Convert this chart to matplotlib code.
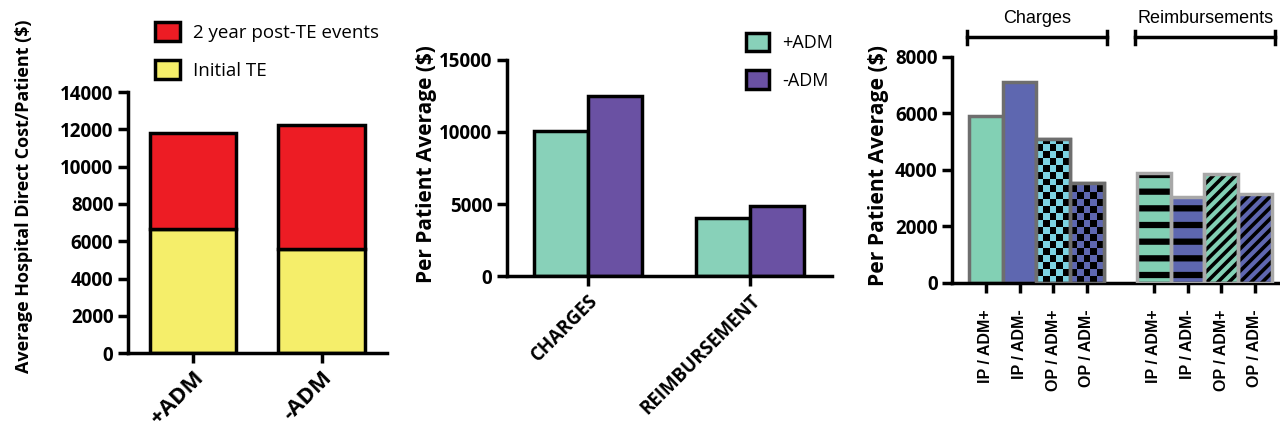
import numpy as np
import matplotlib
matplotlib.use("Agg")
import matplotlib.pyplot as plt
from matplotlib.patches import Patch
from matplotlib.colors import ListedColormap

# panel 1 - stacked hospital direct cost
groups1 = ["+ADM", "-ADM"]
initial_te = [6650, 5600]
post_te = [5150, 6650]   # on top of initial

# panel 2 - charges / reimbursement
groups2 = ["CHARGES", "REIMBURSEMENT"]
plus_adm = [10100, 4050]
minus_adm = [12500, 4850]

# panel 3 - IP / OP breakdown
labels3 = ["IP / ADM+", "IP / ADM-", "OP / ADM+", "OP / ADM-"]
charges3 = [5900, 7100, 5100, 3550]
reimb3 = [3900, 3050, 3850, 3150]

plt.rcParams['font.family'] = ['Open Sans', 'DejaVu Sans']
plt.rcParams['axes.linewidth'] = 2.5
plt.rcParams['xtick.major.width'] = 2.5
plt.rcParams['ytick.major.width'] = 2.5
plt.rcParams['xtick.major.size'] = 7
plt.rcParams['ytick.major.size'] = 7

fig = plt.figure(figsize=(12.8, 4.28), dpi=100)


def style_axes(ax):
    ax.spines['top'].set_visible(False)
    ax.spines['right'].set_visible(False)
    for lab in ax.get_yticklabels():
        lab.set_fontweight('bold')
        lab.set_fontsize(13.5)


# ---------- panel 1 ----------
ax1 = fig.add_axes([0.100, 0.175, 0.202, 0.610])
x1 = np.arange(len(groups1))
ax1.bar(x1, initial_te, width=0.674, color='#F5EE6A', edgecolor='black', linewidth=2.5)
ax1.bar(x1, post_te, bottom=initial_te, width=0.674, color='#ED1C24', edgecolor='black', linewidth=2.5)
ax1.set_xlim(-0.504, 1.504)
ax1.set_ylim(0, 14000)
ax1.set_yticks(np.arange(0, 14001, 2000))
ax1.set_xticks(x1)
ax1.set_xticklabels(groups1, rotation=45, ha='right', rotation_mode='anchor',
                    fontsize=16, fontweight='bold')
ax1.set_ylabel("Average Hospital Direct Cost/Patient ($)", fontsize=13, fontweight='bold')
ax1.yaxis.set_label_coords(-0.367, 0.60)
style_axes(ax1)
h1 = [Patch(facecolor='#ED1C24', edgecolor='black', linewidth=2.5, label='2 year post-TE events'),
      Patch(facecolor='#F5EE6A', edgecolor='black', linewidth=2.5, label='Initial TE')]
ax1.legend(handles=h1, loc='lower left', bbox_to_anchor=(0.04, 0.983), frameon=False,
           fontsize=13.5, handlelength=1.3, handleheight=1.2, labelspacing=0.95, handletextpad=0.7)

# ---------- panel 2 ----------
ax2 = fig.add_axes([0.396, 0.355, 0.254, 0.505])
x2 = np.arange(len(groups2))
w2 = 0.333
ax2.bar(x2 - w2 / 2, plus_adm, width=w2, color='#88D1B9', edgecolor='black', linewidth=2.5, label='+ADM')
ax2.bar(x2 + w2 / 2, minus_adm, width=w2, color='#6A51A3', edgecolor='black', linewidth=2.5, label='-ADM')
ax2.set_xlim(-0.5, 1.506)
ax2.set_ylim(0, 15000)
ax2.set_yticks([0, 5000, 10000, 15000])
ax2.set_xticks(x2)
ax2.set_xticklabels(groups2, rotation=45, ha='right', rotation_mode='anchor',
                    fontsize=13.5, fontweight='bold')
ax2.set_ylabel("Per Patient Average ($)", fontsize=15, fontweight='bold')
ax2.yaxis.set_label_coords(-0.215, 0.52)
style_axes(ax2)
ax2.legend(loc='upper left', bbox_to_anchor=(0.685, 1.20), frameon=False, fontsize=13,
           handlelength=1.3, handleheight=1.2, labelspacing=1.0, handletextpad=0.7)

# ---------- panel 3 ----------
ax3 = fig.add_axes([0.744, 0.339, 0.256, 0.528])
pos_c = np.arange(4)
pos_r = np.arange(4) + 5
teal = '#82D0B4'
blue = '#5E67B0'
cyan = '#7CD3E3'
ec_c = '#6e6e6e'
ec_r = '#a8a8a8'

bars_c = ax3.bar(pos_c, charges3, width=1.0, color=[teal, blue, cyan, blue],
                 edgecolor=ec_c, linewidth=2.5, zorder=2)
hatches = ['-', '-', '///', '///']
for p, v, c, h in zip(pos_r, reimb3, [teal, blue, teal, blue], hatches):
    lw = 4.5 if h == '-' else 2.6
    with plt.rc_context({'hatch.linewidth': lw}):
        # fill + black hatch, then grey outline on top
        ax3.bar(p, v, width=1.0, color=c, edgecolor='black', linewidth=0, hatch=h, zorder=2)
    ax3.bar(p, v, width=1.0, facecolor='none', edgecolor=ec_r, linewidth=2.5, zorder=3)

# checkerboard fill for the OP charge bars
for b, c in zip(list(bars_c)[2:], [cyan, blue]):
    x0 = b.get_x()
    w = b.get_width()
    h = b.get_height()
    ny = int(np.ceil(h / 245))
    nx = 5
    board = np.indices((ny, nx)).sum(axis=0) % 2
    im = ax3.imshow(board, cmap=ListedColormap([c, 'black']), extent=(x0, x0 + w, 0, ny * 245),
                    origin='lower', aspect='auto', interpolation='nearest', zorder=2.5)
    im.set_clip_path(b)
    ax3.bar(x0 + w / 2, h, width=w, facecolor='none', edgecolor=ec_c, linewidth=2.5, zorder=3)

ax3.set_xlim(-1, 8.75)
ax3.set_ylim(0, 8000)
ax3.set_yticks(np.arange(0, 8001, 2000))
ax3.set_xticks(np.concatenate([pos_c, pos_r]))
ax3.set_xticklabels(labels3 + labels3, rotation=90, fontsize=11.5, fontweight='bold',
                    family=['Liberation Sans', 'DejaVu Sans'])
ax3.tick_params(axis='x', pad=12)
ax3.set_ylabel("Per Patient Average ($)", fontsize=15.2, fontweight='bold')
ax3.yaxis.set_label_coords(-0.192, 0.52)
style_axes(ax3)

# group brackets
for pos, name in [(pos_c, 'Charges'), (pos_r, 'Reimbursements')]:
    xa, xb = pos[0] - 0.55, pos[-1] + 0.6
    ax3.plot([xa, xb], [8700, 8700], color='black', lw=2.5, clip_on=False)
    ax3.plot([xa, xa], [8470, 8930], color='black', lw=2.5, clip_on=False)
    ax3.plot([xb, xb], [8470, 8930], color='black', lw=2.5, clip_on=False)
    ax3.text((xa + xb) / 2, 9350, name, ha='center', va='center', fontsize=13,
             family=['Liberation Sans', 'DejaVu Sans'], clip_on=False)

fig.savefig("out.png", dpi=100)
